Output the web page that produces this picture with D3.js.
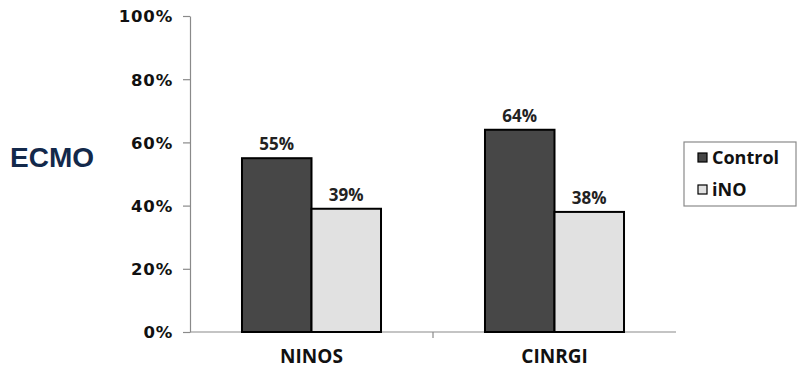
<!DOCTYPE html>
<html><head><meta charset="utf-8">
<script src="https://cdn.jsdelivr.net/npm/d3@7"></script>
<style>body{margin:0;background:#fff}</style>
</head><body>
<svg id="c" width="800" height="369"></svg>
<script>
const categories = ["NINOS", "CINRGI"];
const seriesNames = ["Control", "iNO"];
const controlValues = [55, 64];
const inoValues = [39, 38];
const yTicks = [0, 20, 40, 60, 80, 100];
const colors = ["#474747", "#e1e1e1"];

const svg = d3.select("#c");
const y = d3.scaleLinear().domain([0, 100]).range([332, 16]);
const x0 = d3.scaleBand().domain(categories).range([190, 676]).padding(0);
const x1 = d3.scaleBand().domain(seriesNames).range([0, x0.bandwidth()]).paddingInner(0).paddingOuter(0.748);

// y axis
const yAxis = svg.append("g").attr("transform", "translate(190,0)")
  .call(d3.axisLeft(y).tickValues(yTicks).tickFormat(d => d + "%").tickSize(7).tickSizeOuter(0));
yAxis.select(".domain").attr("stroke", "#8a8a8a").attr("stroke-width", 1.2);
yAxis.selectAll(".tick line").attr("stroke", "#8a8a8a").attr("stroke-width", 1.2);
yAxis.selectAll(".tick text").attr("font-family", "DejaVu Sans").attr("font-weight", "bold")
  .attr("font-size", "16.5px").attr("letter-spacing", "0.8px").attr("fill", "#111")
  .attr("x", -17).attr("dy", "0.36em");

// x axis
const xAxisG = svg.append("g").attr("transform", "translate(0,332)");
xAxisG.append("line").attr("x1", 190).attr("x2", 676).attr("stroke", "#8a8a8a").attr("stroke-width", 1.2);
xAxisG.selectAll("line.tk").data(categories.slice(1)).join("line").attr("class", "tk")
  .attr("x1", d => x0(d)).attr("x2", d => x0(d)).attr("y1", 0).attr("y2", 6)
  .attr("stroke", "#8a8a8a").attr("stroke-width", 1.2);
xAxisG.selectAll("text").data(categories).join("text")
  .attr("x", d => x0(d) + x0.bandwidth() / 2).attr("y", 31)
  .attr("text-anchor", "middle").attr("font-family", "Open Sans").attr("font-weight", "bold")
  .attr("font-size", "19px").attr("fill", "#111").text(d => d);

// bars
const rows = categories.map((c, i) => ({ cat: c, vals: [controlValues[i], inoValues[i]] }));
const groups = svg.selectAll("g.grp").data(rows).join("g").attr("class", "grp")
  .attr("transform", d => `translate(${x0(d.cat)},0)`);
groups.selectAll("rect").data(d => d.vals.map((v, j) => ({ v, s: seriesNames[j], j })))
  .join("rect")
  .attr("x", d => x1(d.s)).attr("width", x1.bandwidth())
  .attr("y", d => y(d.v)).attr("height", d => y(0) - y(d.v))
  .attr("fill", d => colors[d.j]).attr("stroke", "#000").attr("stroke-width", 2);
groups.selectAll("text").data(d => d.vals.map((v, j) => ({ v, s: seriesNames[j], j })))
  .join("text")
  .attr("x", d => x1(d.s) + x1.bandwidth() / 2).attr("y", d => y(d.v) - 8)
  .attr("text-anchor", "middle").attr("font-family", "Open Sans").attr("font-weight", "bold")
  .attr("font-size", "17px").attr("fill", "#222").text(d => d.v + "%");

// y title
svg.append("text").attr("x", 10).attr("y", 167).attr("font-family", "Liberation Sans, Arial")
  .attr("font-weight", "bold").attr("font-size", "28px").attr("fill", "#13294b").text("ECMO");

// legend
const lg = svg.append("g");
lg.append("rect").attr("x", 684).attr("y", 142).attr("width", 112).attr("height", 64)
  .attr("fill", "#fff").attr("stroke", "#8a8a8a").attr("stroke-width", 1.2);
seriesNames.forEach((s, i) => {
  const cy = 158 + i * 32;
  lg.append("rect").attr("x", 698).attr("y", cy - 5).attr("width", 9).attr("height", 9)
    .attr("fill", colors[i]).attr("stroke", "#000").attr("stroke-width", 1.2);
  lg.append("text").attr("x", 712).attr("y", cy).attr("dy", "0.36em")
    .attr("font-family", "Open Sans").attr("font-weight", "bold").attr("font-size", "18px")
    .attr("fill", "#111").text(s);
});
</script>
</body></html>
